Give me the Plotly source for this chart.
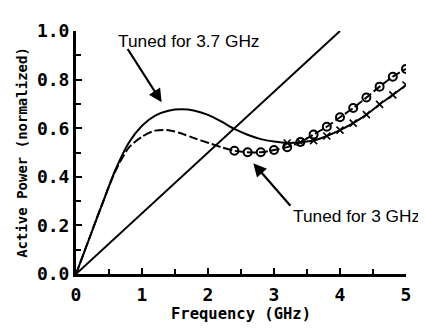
import plotly.graph_objects as go

# Tuned for 3.7 GHz: smooth curve + measured (x markers)
f37_curve = [0.0, 0.2, 0.4, 0.6, 0.8, 1.0, 1.2, 1.4, 1.6, 1.8, 2.0, 2.2, 2.4, 2.6, 2.8, 3.0]
p37_curve = [0.0, 0.145, 0.29, 0.43, 0.54, 0.61, 0.652, 0.672, 0.678, 0.672, 0.655, 0.628, 0.597, 0.573, 0.555, 0.545]
f37_meas = [3.2, 3.4, 3.6, 3.8, 4.0, 4.2, 4.4, 4.6, 4.8, 5.0]
p37_meas = [0.539, 0.542, 0.549, 0.568, 0.592, 0.621, 0.656, 0.698, 0.737, 0.778]

# Tuned for 3 GHz: dashed curve + measured (circle markers)
f3_curve = [0.0, 0.2, 0.4, 0.6, 0.8, 1.0, 1.2, 1.4, 1.6, 1.8, 2.0, 2.2]
p3_curve = [0.0, 0.145, 0.29, 0.425, 0.52, 0.565, 0.59, 0.592, 0.578, 0.558, 0.54, 0.522]
f3_meas = [2.4, 2.6, 2.8, 3.0, 3.2, 3.4, 3.6, 3.8, 4.0, 4.2, 4.4, 4.6, 4.8, 5.0]
p3_meas = [0.507, 0.501, 0.501, 0.510, 0.522, 0.543, 0.574, 0.606, 0.645, 0.683, 0.726, 0.771, 0.812, 0.844]

# Reference straight line
f_ref = [0.0, 4.0]
p_ref = [0.0, 1.0]

x_ticks = [0, 1, 2, 3, 4, 5]
y_ticks = [0.0, 0.2, 0.4, 0.6, 0.8, 1.0]

blk = "black"
fig = go.Figure()
fig.add_trace(go.Scatter(x=f_ref, y=p_ref, mode="lines", line=dict(color=blk, width=2)))
fig.add_trace(go.Scatter(x=f37_curve + f37_meas, y=p37_curve + p37_meas, mode="lines",
                         line=dict(color=blk, width=2, shape="spline", smoothing=0.8)))
fig.add_trace(go.Scatter(x=f37_meas, y=p37_meas, mode="markers",
                         marker=dict(symbol="x-thin", size=7, color=blk, line=dict(color=blk, width=1.6))))
fig.add_trace(go.Scatter(x=f3_curve + f3_meas, y=p3_curve + p3_meas, mode="lines",
                         line=dict(color=blk, width=2, dash="9px,3px", shape="spline", smoothing=0.8)))
fig.add_trace(go.Scatter(x=f3_meas, y=p3_meas, mode="markers",
                         marker=dict(symbol="circle-open", size=8, color=blk, line=dict(color=blk, width=2))))

afont = dict(family="Liberation Sans, Arial", size=17.3, color=blk)
fig.add_annotation(x=1.712, y=0.958, xref="x", yref="y", text="Tuned for 3.7 GHz",
                   showarrow=False, font=afont)
fig.add_annotation(x=1.298, y=0.707, ax=0.768, ay=0.932, xref="x", yref="y", axref="x", ayref="y",
                   text="", showarrow=True, arrowhead=2, arrowsize=1.2, arrowwidth=2.2, arrowcolor=blk)
fig.add_annotation(x=4.25, y=0.237, xref="x", yref="y", text="Tuned for 3 GHz",
                   showarrow=False, font=afont)
fig.add_annotation(x=2.686, y=0.456, ax=3.268, ay=0.275, xref="x", yref="y", axref="x", ayref="y",
                   text="", showarrow=True, arrowhead=2, arrowsize=1.2, arrowwidth=2.2, arrowcolor=blk)

tfont = dict(family="DejaVu Sans Mono", size=18, color=blk, weight="bold")
fig.update_xaxes(range=[0, 5], tickvals=x_ticks, ticktext=[str(v) for v in x_ticks],
                 showline=True, linecolor=blk, linewidth=3, ticks="inside", ticklen=6, tickwidth=2,
                 tickcolor=blk, showgrid=False, zeroline=False, tickfont=tfont, ticklabelstandoff=2,
                 minor=dict(ticks="inside", dtick=0.5, ticklen=5, tickwidth=2, tickcolor=blk),
                 title=dict(text="Frequency (GHz)", font=dict(family="DejaVu Sans Mono", size=15.5,
                                                             color=blk, weight="bold"), standoff=3))
fig.update_yaxes(range=[0, 1.0], tickvals=y_ticks, ticktext=["%.1f" % v for v in y_ticks],
                 showline=True, linecolor=blk, linewidth=3, ticks="inside", ticklen=6, tickwidth=2,
                 tickcolor=blk, showgrid=False, zeroline=False, tickfont=tfont,
                 minor=dict(ticks="inside", dtick=0.1, ticklen=5, tickwidth=2, tickcolor=blk),
                 title=dict(text="Active Power (normalized)", font=dict(family="DejaVu Sans Mono", size=14,
                                                                       color=blk, weight="bold"), standoff=6))
# figure is offset by the page's default 8px body margin, so size it to fit the window
fig.update_layout(width=418, height=322, margin=dict(l=68, r=20, t=16, b=47),
                  plot_bgcolor="white", paper_bgcolor="white", showlegend=False)
fig.write_html("out.html")
